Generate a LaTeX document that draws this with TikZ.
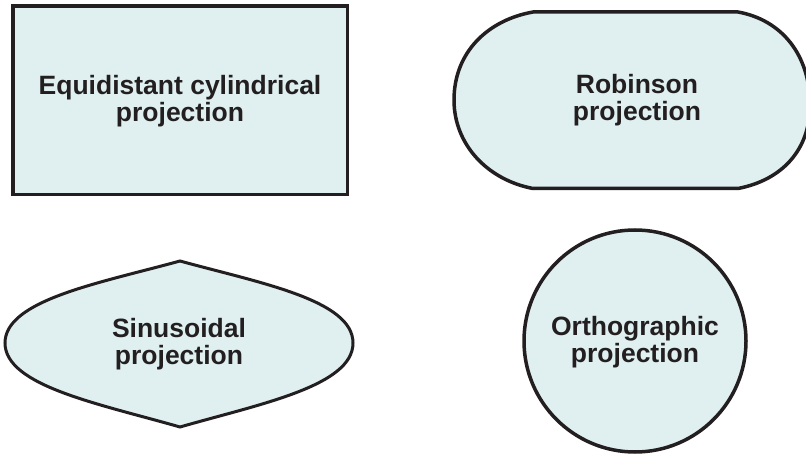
\documentclass[tikz,border=0pt]{standalone}
\usepackage{fontspec}
\setmainfont{Liberation Sans}
\begin{document}
\begin{tikzpicture}[x=1pt,y=-1pt,
  shapeline/.style={draw=linecol, fill=fillcol, line width=3.5pt, line join=miter},
  label/.style={align=center, text=textcol, font=\bfseries\fontsize{26.5}{27.5}\selectfont, inner sep=0pt}]
\definecolor{linecol}{HTML}{231F20}
\definecolor{fillcol}{HTML}{E0F0F0}
\definecolor{textcol}{HTML}{231F20}
\useasboundingbox (0,0) rectangle (806,454);
% Equidistant cylindrical
\node[shapeline, rectangle, minimum width=334.5pt, minimum height=188.5pt, inner sep=0pt] (eq) at (180,100.3) {};
\node[label] (eqt) at (180,101) {Equidistant cylindrical\\projection};
% Robinson
\path[shapeline] (533,12) -- (738,12)
  .. controls (782,20) and (810,55) .. (810,105)
  .. controls (810,150) and (782,180) .. (738,188.5)
  -- (533,188.5)
  .. controls (488,180) and (454,145) .. (454,100)
  .. controls (454,52) and (488,20) .. cycle;
\node[label] (rob) at (637,100) {Robinson\\projection};
% Sinusoidal
\path[shapeline, line width=3pt] (180,261)
  .. controls (100,283) and (5,300) .. (5,343)
  .. controls (5,386) and (100,404) .. (180,427)
  .. controls (260,404) and (353,386) .. (353,343)
  .. controls (353,300) and (260,283) .. cycle;
\node[label] (sin) at (179,344) {Sinusoidal\\projection};
% Orthographic
\node[shapeline, circle, minimum size=222pt, inner sep=0pt] (orth) at (635,341) {};
\node[label] (ortht) at (635,342) {Orthographic\\projection};
\end{tikzpicture}
\end{document}
